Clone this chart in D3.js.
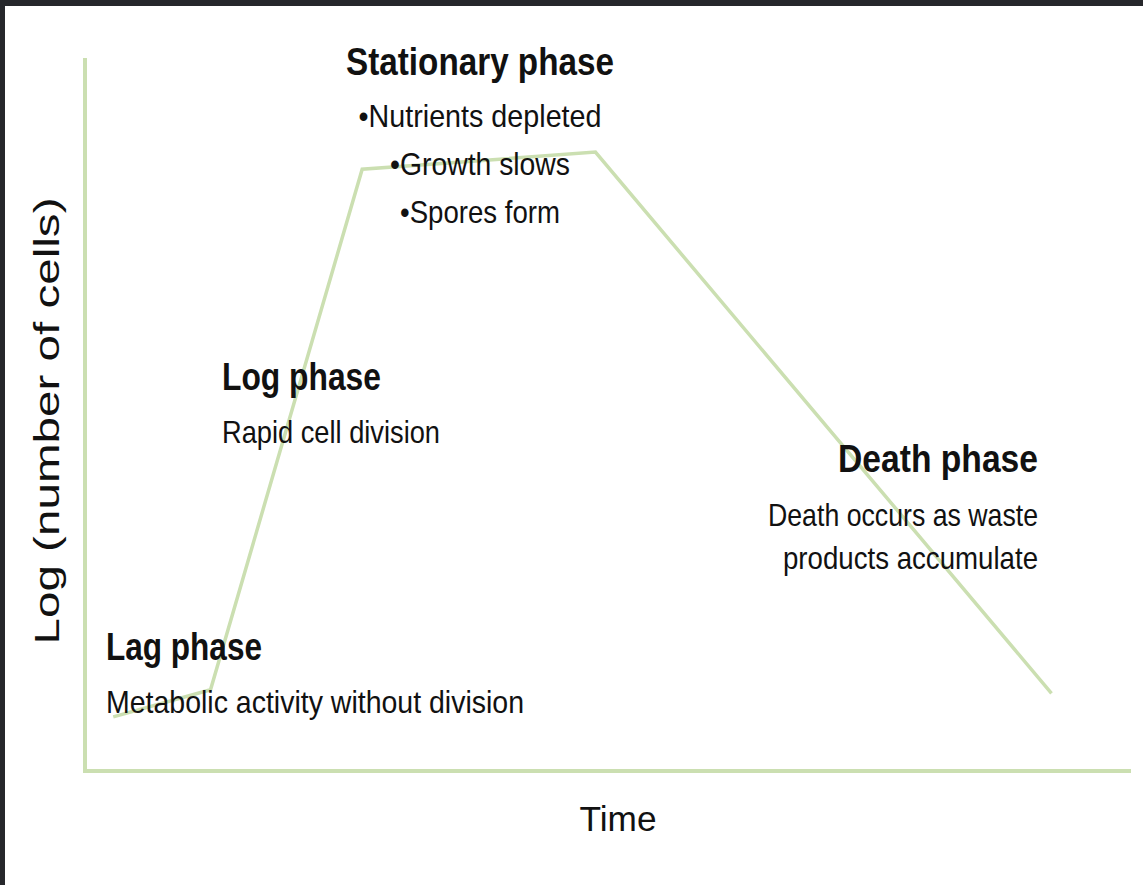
<!DOCTYPE html>
<html>
<head>
<meta charset="utf-8">
<script src="https://cdn.jsdelivr.net/npm/d3@7"></script>
<style>
  body { margin: 0; background: #fff; }
  text { font-family: "Liberation Sans Narrow", "Liberation Sans", "Noto Sans", sans-serif; fill: #111; }
</style>
</head>
<body>
<script>
// growth curve (time units 0-100, log N units 0-10)
var timePts = [2.7, 12, 26.5, 48.8, 92.4];
var logPts  = [0.76, 1.14, 8.44, 8.68, 1.09];

var phaseTitles = ["Lag phase", "Log phase", "Stationary phase", "Death phase"];
var lagNotes = ["Metabolic activity without division"];
var logNotes = ["Rapid cell division"];
var statNotes = ["\u2022Nutrients depleted", "\u2022Growth slows", "\u2022Spores form"];
var deathNotes = ["Death occurs as waste", "products accumulate"];

var xTitle = "Time";
var yTitle = "Log (number of cells)";

var w = 1143, h = 885;
var green = "#cbdfb1";

var svg = d3.select("body").append("svg")
    .attr("width", w)
    .attr("height", h);

// dark frame of the screenshot
svg.append("rect").attr("x", 0).attr("y", 0).attr("width", w).attr("height", 6).attr("fill", "#26272b");
svg.append("rect").attr("x", 0).attr("y", 0).attr("width", 5).attr("height", h).attr("fill", "#26272b");

var x = d3.scaleLinear().domain([0, 100]).range([85, 1131]);
var y = d3.scaleLinear().domain([0, 10]).range([771, 58]);

// axes, plain lines with no ticks
svg.append("line")
    .attr("x1", x(0)).attr("x2", x(0))
    .attr("y1", y(10)).attr("y2", y(0) + 2)
    .attr("stroke", green).attr("stroke-width", 4);
svg.append("line")
    .attr("x1", x(0) - 2).attr("x2", x(100))
    .attr("y1", y(0)).attr("y2", y(0))
    .attr("stroke", green).attr("stroke-width", 4);

var line = d3.line()
    .x((d, i) => x(timePts[i]))
    .y((d, i) => y(logPts[i]));

svg.append("path")
    .datum(timePts)
    .attr("d", line)
    .attr("fill", "none")
    .attr("stroke", green)
    .attr("stroke-width", 3.5)
    .attr("stroke-linejoin", "miter");

function label(txt, px, py, len, size, bold, anchor) {
  return svg.append("text")
    .attr("x", px)
    .attr("y", py)
    .attr("text-anchor", anchor || "start")
    .attr("textLength", len)
    .attr("lengthAdjust", "spacingAndGlyphs")
    .style("font-size", size + "px")
    .style("font-weight", bold ? "bold" : "normal")
    .text(txt);
}

// lag
label(phaseTitles[0], 106, 660, 156, 38, true);
label(lagNotes[0], 106, 713, 418, 32, false);

// log
label(phaseTitles[1], 222, 390, 159, 38, true);
label(logNotes[0], 222, 443, 218, 32, false);

// stationary
label(phaseTitles[2], 480, 75, 268, 38, true, "middle");
var statLens = [243, 180, 160];
statNotes.forEach(function(t, i) {
  label(t, 480, 127 + i * 48, statLens[i], 32, false, "middle");
});

// death
label(phaseTitles[3], 1038, 472, 200, 38, true, "end");
var deathLens = [270, 255];
deathNotes.forEach(function(t, i) {
  label(t, 1038, 526 + i * 43, deathLens[i], 32, false, "end");
});

// axis titles
label(xTitle, 618, 831, 77, 35, false, "middle")
    .style("font-family", "'Liberation Sans', sans-serif");
label(yTitle, 0, 0, 447, 35, false, "middle")
    .style("font-family", "'Liberation Sans', sans-serif")
    .attr("transform", "translate(59,421) rotate(-90)");
</script>
</body>
</html>
